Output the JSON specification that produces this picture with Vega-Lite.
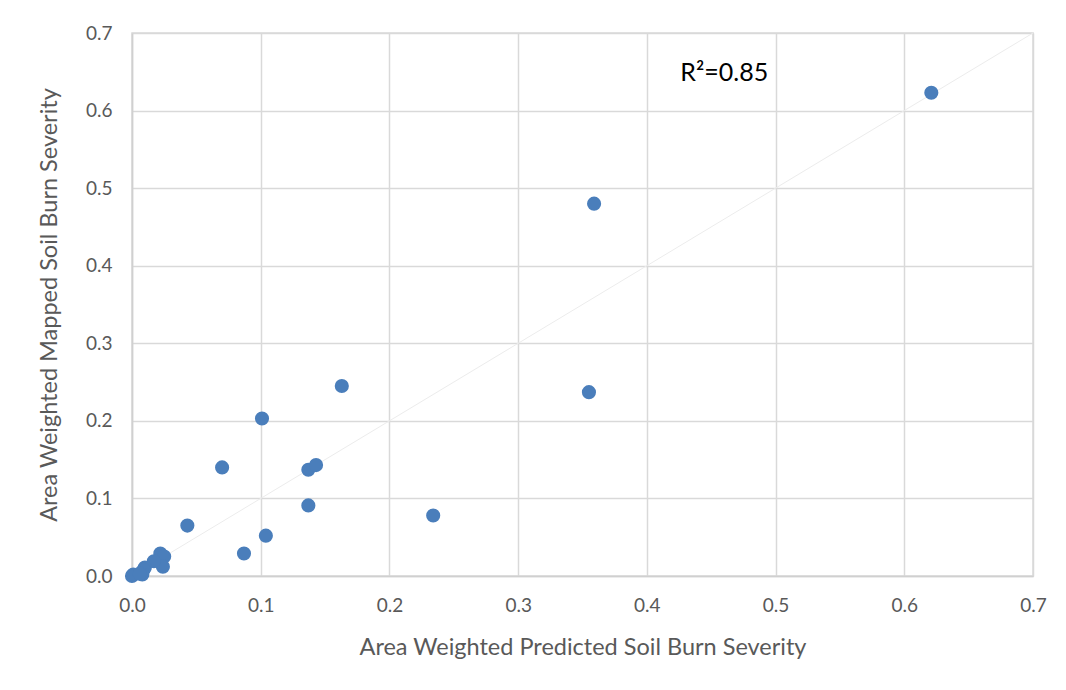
{
  "$schema": "https://vega.github.io/schema/vega-lite/v6.json",
  "width": 901,
  "height": 543,
  "autosize": "none",
  "padding": {"left": 132, "top": 33, "right": 33, "bottom": 114},
  "background": "white",
  "config": {
    "font": "Lato",
    "view": {"stroke": "#d9d9d9", "strokeWidth": 1.5},
    "axis": {
      "gridColor": "#d9d9d9",
      "gridWidth": 1.5,
      "domainColor": "#d0d0d0",
      "domainWidth": 1.5,
      "ticks": false,
      "labelFlush": false,
      "labelColor": "#595959",
      "labelFontSize": 19,
      "labelFont": "Lato",
      "titleColor": "#595959",
      "titleFontSize": 23.5,
      "titleFont": "Lato",
      "titleFontWeight": "normal"
    }
  },
  "datasets": {
    "points": [
      {"predicted": 0.621, "mapped": 0.623},
      {"predicted": 0.359, "mapped": 0.480},
      {"predicted": 0.355, "mapped": 0.237},
      {"predicted": 0.163, "mapped": 0.245},
      {"predicted": 0.101, "mapped": 0.203},
      {"predicted": 0.070, "mapped": 0.140},
      {"predicted": 0.137, "mapped": 0.137},
      {"predicted": 0.143, "mapped": 0.143},
      {"predicted": 0.137, "mapped": 0.091},
      {"predicted": 0.043, "mapped": 0.065},
      {"predicted": 0.104, "mapped": 0.052},
      {"predicted": 0.087, "mapped": 0.029},
      {"predicted": 0.234, "mapped": 0.078},
      {"predicted": 0.022, "mapped": 0.029},
      {"predicted": 0.025, "mapped": 0.025},
      {"predicted": 0.024, "mapped": 0.012},
      {"predicted": 0.017, "mapped": 0.019},
      {"predicted": 0.010, "mapped": 0.011},
      {"predicted": 0.009, "mapped": 0.008},
      {"predicted": 0.008, "mapped": 0.002},
      {"predicted": 0.001, "mapped": 0.002},
      {"predicted": 0.000, "mapped": 0.000},
      {"predicted": 0.006, "mapped": 0.003}
    ],
    "oneToOne": [
      {"predicted": 0.0, "mapped": 0.0},
      {"predicted": 0.7, "mapped": 0.7}
    ],
    "label": [
      {"predicted": 0.426, "mapped": 0.648, "text": "R²=0.85"}
    ]
  },
  "layer": [
    {
      "data": {"name": "oneToOne"},
      "mark": {"type": "line", "color": "#ececec", "strokeWidth": 1},
      "encoding": {
        "x": {
          "field": "predicted",
          "type": "quantitative",
          "scale": {"domain": [0, 0.7], "nice": false, "zero": true},
          "axis": {
            "title": "Area Weighted Predicted Soil Burn Severity",
            "values": [0, 0.1, 0.2, 0.3, 0.4, 0.5, 0.6, 0.7],
            "format": ".1f",
            "labelPadding": 20,
            "titlePadding": 20
          }
        },
        "y": {
          "field": "mapped",
          "type": "quantitative",
          "scale": {"domain": [0, 0.7], "nice": false, "zero": true},
          "axis": {
            "title": "Area Weighted Mapped Soil Burn Severity",
            "values": [0, 0.1, 0.2, 0.3, 0.4, 0.5, 0.6, 0.7],
            "format": ".1f",
            "labelPadding": 20,
            "titlePadding": 24
          }
        }
      }
    },
    {
      "data": {"name": "points"},
      "mark": {"type": "circle", "color": "#4a7ebb", "opacity": 1, "size": 200},
      "encoding": {
        "x": {"field": "predicted", "type": "quantitative"},
        "y": {"field": "mapped", "type": "quantitative"}
      }
    },
    {
      "data": {"name": "label"},
      "mark": {"type": "text", "align": "left", "baseline": "middle", "fontSize": 25, "font": "Lato", "color": "#000000"},
      "encoding": {
        "x": {"field": "predicted", "type": "quantitative"},
        "y": {"field": "mapped", "type": "quantitative"},
        "text": {"field": "text"}
      }
    }
  ]
}
